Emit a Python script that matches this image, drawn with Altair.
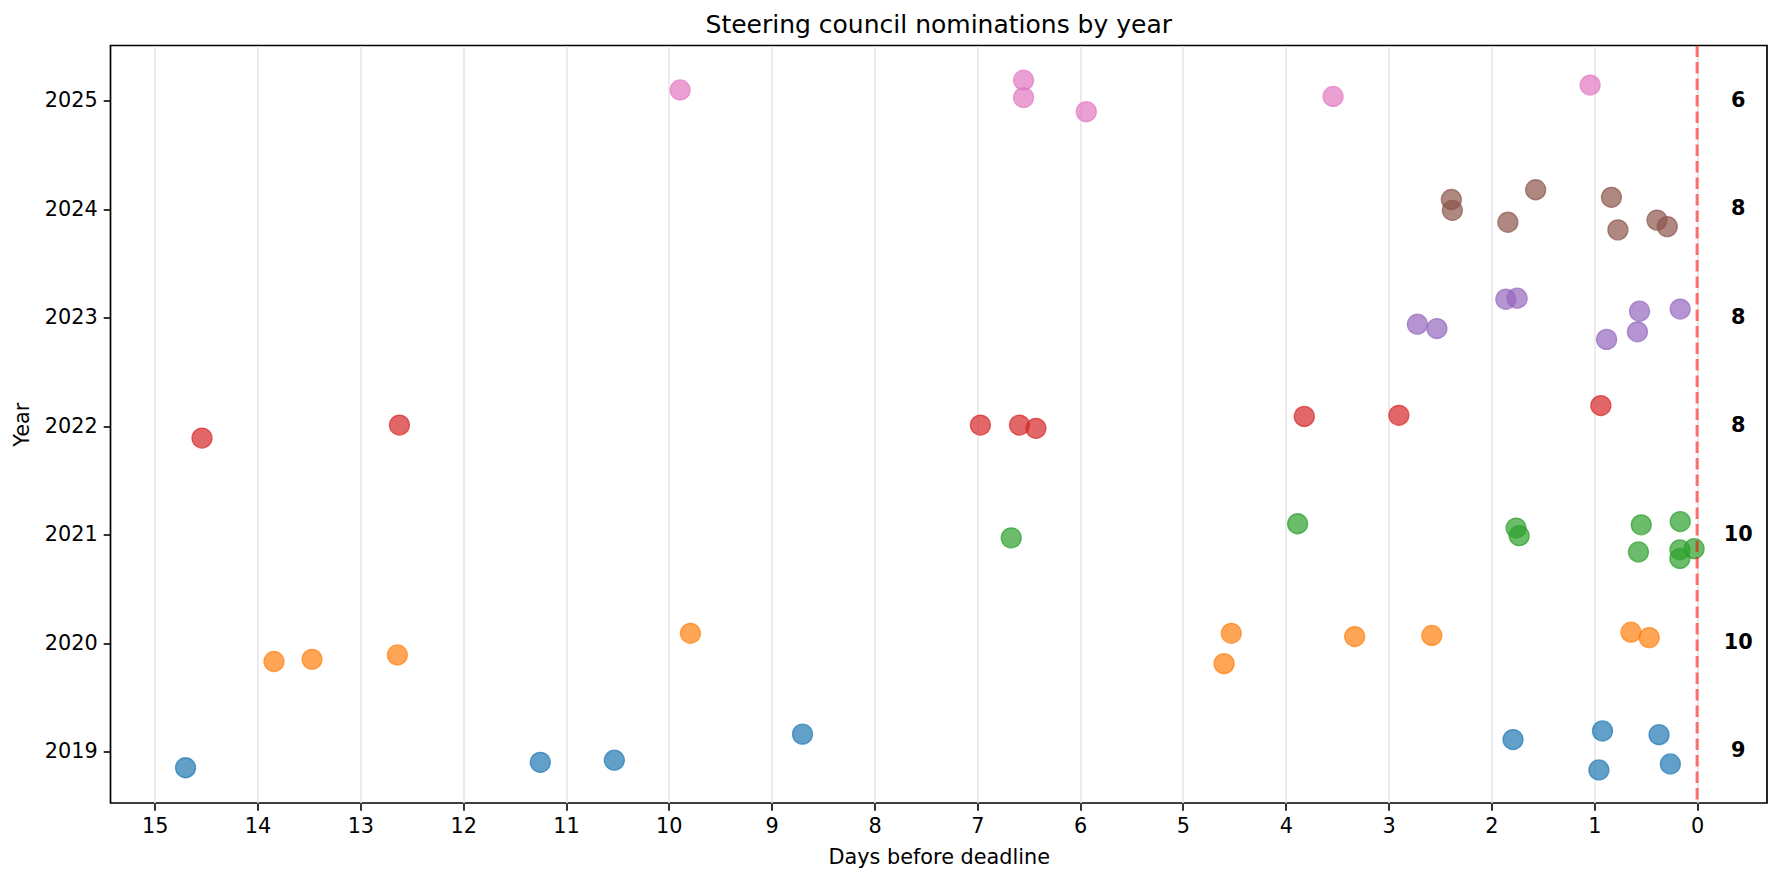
import altair as alt
import pandas as pd

years = [2019, 2020, 2021, 2022, 2023, 2024, 2025]
colors = ["#1f77b4", "#ff7f0e", "#2ca02c", "#d62728", "#9467bd", "#8c564b", "#e377c2"]
counts = [9, 10, 10, 8, 8, 8, 6]

days_2019 = [14.70, 11.25, 10.53, 8.70, 1.79, 0.92, 0.955, 0.37, 0.26]
yj_2019 = [2018.85, 2018.90, 2018.92, 2019.16, 2019.11, 2019.19, 2018.83, 2019.155, 2018.885]

days_2020 = [13.84, 13.47, 12.64, 9.79, 4.53, 4.60, 3.33, 2.58, 0.643, 0.466]
yj_2020 = [2019.83, 2019.85, 2019.89, 2020.09, 2020.09, 2019.81, 2020.06, 2020.07, 2020.10, 2020.05]

days_2021 = [6.67, 3.885, 1.76, 1.73, 0.543, 0.164, 0.57, 0.167, 0.167, 0.029]
yj_2021 = [2020.97, 2021.10, 2021.06, 2020.99, 2021.09, 2021.12, 2020.84, 2020.86, 2020.78, 2020.87]

days_2022 = [14.54, 12.62, 6.97, 6.59, 6.43, 3.82, 2.90, 0.936]
yj_2022 = [2021.89, 2022.01, 2022.01, 2022.01, 2021.98, 2022.09, 2022.10, 2022.19]

days_2023 = [2.72, 2.53, 1.86, 1.75, 0.56, 0.58, 0.88, 0.164]
yj_2023 = [2022.94, 2022.90, 2023.17, 2023.18, 2023.06, 2022.87, 2022.80, 2023.08]

days_2024 = [2.39, 2.38, 1.84, 1.57, 0.833, 0.77, 0.39, 0.29]
yj_2024 = [2024.09, 2023.99, 2023.88, 2024.18, 2024.11, 2023.81, 2023.90, 2023.84]

days_2025 = [9.89, 6.55, 6.55, 5.94, 3.54, 1.04]
yj_2025 = [2025.10, 2025.19, 2025.03, 2024.90, 2025.04, 2025.145]

all_days = [days_2019, days_2020, days_2021, days_2022, days_2023, days_2024, days_2025]
all_yj = [yj_2019, yj_2020, yj_2021, yj_2022, yj_2023, yj_2024, yj_2025]

rows = []
for yr, ds, ys in zip(years, all_days, all_yj):
    for d, y in zip(ds, ys):
        rows.append({"year": str(yr), "days": d, "yj": y})
pts = pd.DataFrame(rows)
cnt = pd.DataFrame({"year": years, "count": counts})
deadline = pd.DataFrame({"d": [0]})

FONT = "DejaVu Sans"
xscale = alt.Scale(domain=[-0.68, 15.43], reverse=True, nice=False, zero=False)
yscale = alt.Scale(domain=[2018.525, 2025.51], nice=False, zero=False)
cscale = alt.Scale(domain=[str(y) for y in years], range=colors)

xaxis = alt.Axis(values=list(range(0, 16)), format="d", title="Days before deadline",
                 grid=True, gridColor="#e6e6e6", gridWidth=1.6,
                 tickSize=7.3, tickWidth=1.6, tickColor="black",
                 labelPadding=6, titlePadding=11, domain=False)
yaxis = alt.Axis(values=years, format="d", title="Year", grid=False,
                 tickSize=7.3, tickWidth=1.6, tickColor="black",
                 labelPadding=6, titlePadding=12, domain=False)

points = alt.Chart(pts).mark_circle(size=400, fillOpacity=0.7, strokeOpacity=0.7,
                                    strokeWidth=1.3, opacity=1).encode(
    x=alt.X("days:Q", scale=xscale, axis=xaxis),
    y=alt.Y("yj:Q", scale=yscale, axis=yaxis),
    color=alt.Color("year:N", scale=cscale, legend=None),
    stroke=alt.Stroke("year:N", scale=cscale, legend=None),
)

rule = alt.Chart(deadline).mark_rule(color="#ff0000", opacity=0.55,
                                     strokeDash=[11.5, 5], strokeWidth=3).encode(
    x=alt.X("d:Q", scale=xscale)
)

labels = alt.Chart(cnt).mark_text(font=FONT, fontSize=20.8, fontWeight="bold",
                                  color="black", align="center", baseline="middle").encode(
    x=alt.X(datum=-0.4, type="quantitative", scale=xscale),
    y=alt.Y("year:Q", scale=yscale),
    text=alt.Text("count:Q"),
)

chart = alt.layer(points, rule, labels).properties(
    width=1656.5,
    height=757.5,
    padding={"left": 102.5, "top": 37.5, "right": 9, "bottom": 71},
    autosize=alt.AutoSizeParams(type="none"),
    title=alt.TitleParams("Steering council nominations by year", font=FONT, fontSize=25,
                          fontWeight="normal", color="black", anchor="middle",
                          frame="group", baseline="bottom", offset=6, dy=25),
).configure_view(
    stroke="black", strokeWidth=1.7
).configure_axis(
    labelFont=FONT, titleFont=FONT, labelFontSize=20.8, titleFontSize=20.8,
    labelColor="black", titleColor="black", titleFontWeight="normal"
)

chart.save("out.html", embed_options={"renderer": "svg", "actions": False})
